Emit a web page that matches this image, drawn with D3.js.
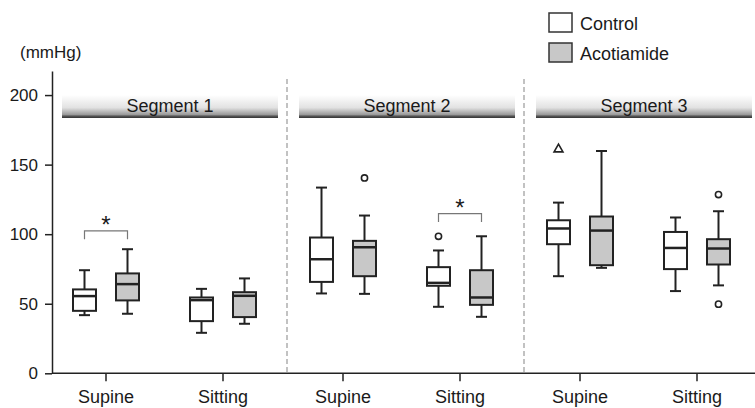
<!DOCTYPE html>
<html>
<head>
<meta charset="utf-8">
<script src="https://cdn.jsdelivr.net/npm/d3@7"></script>
<style>
    body { margin: 0; background: #fff; }
    svg { display: block; font-family: "Liberation Sans", Arial, sans-serif; }
</style>
</head>
<body>
<script>
const width = 755;
const height = 408;

// Data (mmHg)
const segments = ["Segment 1", "Segment 2", "Segment 3"];
const postures = ["Supine", "Sitting"];
const groups = ["Control", "Acotiamide"];
const yTicks = [0, 50, 100, 150, 200];

// [min, q1, median, q3, max] in order: seg1 supine, seg1 sitting, seg2 supine, ...
const controlStats = [
    [41.8, 44.9, 55.5, 60.3, 74.1],
    [29.1, 37.5, 52.6, 54.5, 60.7],
    [57.4, 65.7, 82.0, 97.6, 133.5],
    [47.8, 62.9, 65.0, 76.3, 88.3],
    [69.8, 92.8, 104.1, 110.0, 122.7],
    [59.1, 74.9, 90.1, 101.6, 112.0]
];
const acotiamideStats = [
    [42.8, 52.4, 64.1, 71.8, 89.2],
    [35.6, 40.4, 55.7, 58.3, 68.2],
    [57.1, 69.8, 90.6, 95.2, 113.4],
    [40.6, 49.2, 54.5, 74.1, 98.5],
    [75.8, 77.7, 102.6, 112.7, 159.8],
    [63.2, 78.2, 89.7, 96.4, 116.5]
];
// outliers: [position index, group index, value, shape]
const outliers = [
    [2, 1, 140.4, "circle"],
    [3, 0, 98.5, "circle"],
    [4, 0, 161.0, "triangle"],
    [5, 1, 128.5, "circle"],
    [5, 1, 49.7, "circle"]
];
// significance brackets: [position index, bracket level, leg end]
const brackets = [
    [0, 102.4, 96.4],
    [3, 114.8, 108.8]
];

const svg = d3.select("body").append("svg")
    .attr("width", width)
    .attr("height", height);

const xSeg = d3.scaleBand().domain(segments).range([50, 761]);
const xPos = d3.scalePoint().domain(postures).range([56, 173]);
const xGrp = d3.scalePoint().domain(groups).range([-21.5, 21.5]);
const y = d3.scaleLinear().domain([0, 217.3]).range([373.3, 71]);

const boxW = 23;
const capW = 11;

// position index -> center x of that posture
function posX(i) {
    return xSeg(segments[Math.floor(i / 2)]) + xPos(postures[i % 2]);
}

// gradient for the segment header bars
const grad = svg.append("defs").append("linearGradient")
    .attr("id", "hdr").attr("x1", 0).attr("y1", 0).attr("x2", 0).attr("y2", 1);
grad.append("stop").attr("offset", "0%").attr("stop-color", "#ffffff");
grad.append("stop").attr("offset", "55%").attr("stop-color", "#e2e2e2");
grad.append("stop").attr("offset", "85%").attr("stop-color", "#9a9a9a");
grad.append("stop").attr("offset", "92%").attr("stop-color", "#555");
grad.append("stop").attr("offset", "100%").attr("stop-color", "#333");

// dashed separators
svg.selectAll(".sep")
    .data(segments.slice(1))
    .join("line")
    .attr("x1", d => xSeg(d)).attr("x2", d => xSeg(d))
    .attr("y1", 79).attr("y2", y(0))
    .attr("stroke", "#9a9a9a")
    .attr("stroke-width", 1.2)
    .attr("stroke-dasharray", "5,3");

// segment headers
const hdr = svg.selectAll(".hdr")
    .data(segments)
    .join("g");
hdr.append("rect")
    .attr("x", d => xSeg(d) + 12)
    .attr("y", 95)
    .attr("width", 216)
    .attr("height", 23)
    .attr("fill", "url(#hdr)");
hdr.append("text")
    .attr("x", d => xSeg(d) + 120)
    .attr("y", 112)
    .attr("text-anchor", "middle")
    .attr("font-size", 18)
    .attr("fill", "#1a1a1a")
    .text(d => d);

// y axis
const yAxis = svg.append("g")
    .attr("transform", "translate(52,0)")
    .call(d3.axisLeft(y).tickValues(yTicks).tickSize(7).tickSizeOuter(0).tickPadding(7));
yAxis.select(".domain").attr("stroke", "#222").attr("stroke-width", 1.5);
yAxis.selectAll(".tick line").attr("stroke", "#222").attr("stroke-width", 1.5);
yAxis.selectAll(".tick text")
    .attr("font-size", 17)
    .attr("font-family", "'Liberation Sans', Arial, sans-serif")
    .attr("fill", "#1a1a1a");

svg.append("text")
    .attr("x", 20).attr("y", 58)
    .attr("font-size", 17)
    .attr("fill", "#1a1a1a")
    .text("(mmHg)");

// x axis
svg.append("line")
    .attr("x1", 52).attr("x2", width)
    .attr("y1", y(0)).attr("y2", y(0))
    .attr("stroke", "#222").attr("stroke-width", 1.5);
const pos = d3.range(segments.length * postures.length);
svg.selectAll(".xtick")
    .data(pos)
    .join("line")
    .attr("x1", d => posX(d)).attr("x2", d => posX(d))
    .attr("y1", y(0)).attr("y2", y(0) + 8)
    .attr("stroke", "#222").attr("stroke-width", 1.5);
svg.selectAll(".xlabel")
    .data(pos)
    .join("text")
    .attr("x", d => posX(d))
    .attr("y", 403)
    .attr("text-anchor", "middle")
    .attr("font-size", 18)
    .attr("fill", "#1a1a1a")
    .text(d => postures[d % 2]);

// boxes
const boxData = [];
pos.forEach(i => {
    boxData.push({i: i, g: groups[0], s: controlStats[i]});
    boxData.push({i: i, g: groups[1], s: acotiamideStats[i]});
});

const box = svg.selectAll(".box")
    .data(boxData)
    .join("g")
    .attr("transform", d => `translate(${posX(d.i) + xGrp(d.g)},0)`)
    .attr("stroke", "#222")
    .attr("stroke-width", 2);
// whiskers
box.append("line")
    .attr("y1", d => y(d.s[0])).attr("y2", d => y(d.s[1]));
box.append("line")
    .attr("y1", d => y(d.s[3])).attr("y2", d => y(d.s[4]));
box.append("line")
    .attr("x1", -capW / 2).attr("x2", capW / 2)
    .attr("y1", d => y(d.s[0])).attr("y2", d => y(d.s[0]));
box.append("line")
    .attr("x1", -capW / 2).attr("x2", capW / 2)
    .attr("y1", d => y(d.s[4])).attr("y2", d => y(d.s[4]));
box.append("rect")
    .attr("x", -boxW / 2)
    .attr("width", boxW)
    .attr("y", d => y(d.s[3]))
    .attr("height", d => y(d.s[1]) - y(d.s[3]))
    .attr("fill", d => d.g === "Control" ? "#fff" : "#c8c8c8");
box.append("line")
    .attr("x1", -boxW / 2).attr("x2", boxW / 2)
    .attr("y1", d => y(d.s[2])).attr("y2", d => y(d.s[2]))
    .attr("stroke-width", 2.5);

// outliers
svg.selectAll(".out")
    .data(outliers)
    .join("path")
    .attr("transform", d => `translate(${posX(d[0]) + xGrp(groups[d[1]])},${y(d[2])})`)
    .attr("d", d => d[3] === "circle"
        ? d3.symbol(d3.symbolCircle, 30)()
        : d3.symbol(d3.symbolTriangle, 34)())
    .attr("fill", "#fff")
    .attr("stroke", "#222")
    .attr("stroke-width", 1.6);

// significance brackets
const br = svg.selectAll(".br")
    .data(brackets)
    .join("g");
br.append("path")
    .attr("d", d => {
        const x1 = posX(d[0]) + xGrp(groups[0]);
        const x2 = posX(d[0]) + xGrp(groups[1]);
        return `M${x1},${y(d[2])}V${y(d[1])}H${x2}V${y(d[2])}`;
    })
    .attr("fill", "none")
    .attr("stroke", "#777")
    .attr("stroke-width", 1.2);
br.append("text")
    .attr("x", d => posX(d[0]))
    .attr("y", d => y(d[1]) + 2.5)
    .attr("text-anchor", "middle")
    .attr("font-size", 24)
    .attr("fill", "#1a1a1a")
    .text("*");

// legend
const legend = svg.selectAll(".legend")
    .data(groups)
    .join("g")
    .attr("transform", (d, i) => `translate(549,${13 + i * 30})`);
legend.append("rect")
    .attr("width", 23).attr("height", 19)
    .attr("fill", d => d === "Control" ? "#fff" : "#c8c8c8")
    .attr("stroke", "#333")
    .attr("stroke-width", 1.5);
legend.append("text")
    .attr("x", 31).attr("y", 17)
    .attr("font-size", 18)
    .attr("fill", "#1a1a1a")
    .text(d => d);
</script>
</body>
</html>
